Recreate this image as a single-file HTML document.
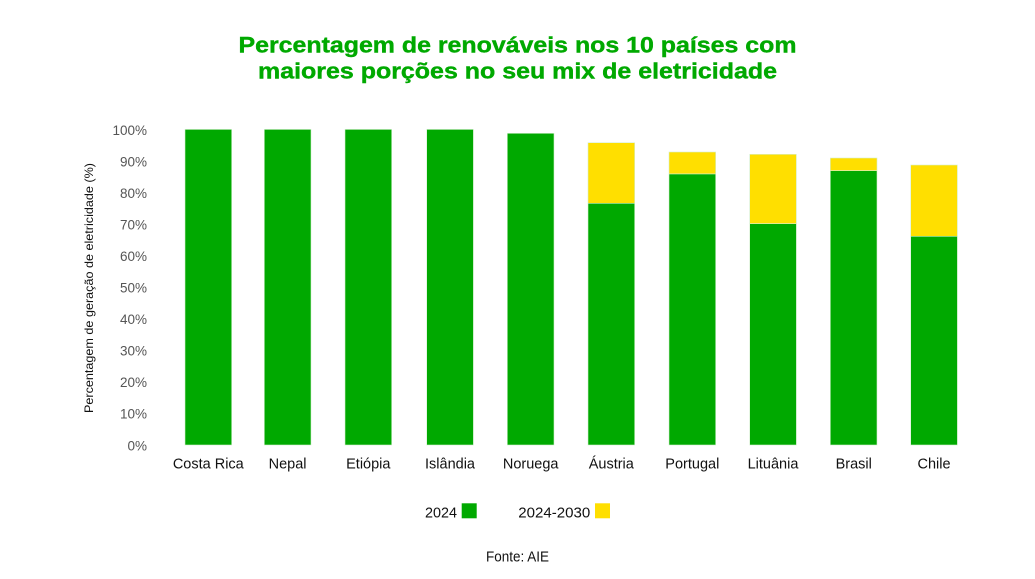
<!DOCTYPE html>
<html><head><meta charset="utf-8"><style>
html,body{margin:0;padding:0;background:#fff;}
svg{display:block;}
text{font-family:"Liberation Sans",sans-serif;}
</style></head><body>
<svg width="1035" height="579" viewBox="0 0 1035 579" xmlns="http://www.w3.org/2000/svg">
<rect width="1035" height="579" fill="#fff"/>
<!-- title -->
<text x="517.5" y="52.5" text-anchor="middle" font-size="22" font-weight="bold" fill="#00A900" stroke="#00A900" stroke-width="0.4" textLength="558" lengthAdjust="spacingAndGlyphs">Percentagem de renováveis nos 10 países com</text>
<text x="517.5" y="78.5" text-anchor="middle" font-size="22" font-weight="bold" fill="#00A900" stroke="#00A900" stroke-width="0.4" textLength="519" lengthAdjust="spacingAndGlyphs">maiores porções no seu mix de eletricidade</text>
<!-- y ticks -->
<g font-size="13.5" fill="#555" text-anchor="end">
<text x="147" y="134.8">100%</text>
<text x="147" y="166.3">90%</text>
<text x="147" y="197.8">80%</text>
<text x="147" y="229.3">70%</text>
<text x="147" y="260.8">60%</text>
<text x="147" y="292.3">50%</text>
<text x="147" y="323.8">40%</text>
<text x="147" y="355.3">30%</text>
<text x="147" y="386.8">20%</text>
<text x="147" y="418.3">10%</text>
<text x="147" y="450.3">0%</text>
</g>
<text transform="translate(93,288) rotate(-90)" text-anchor="middle" font-size="12" fill="#111" textLength="250" lengthAdjust="spacingAndGlyphs">Percentagem de geração de eletricidade (%)</text>
<!-- bars -->
<g stroke="#d6f0d0" stroke-width="0.6">
<rect x="185" y="129.4" width="46.7" height="315.6" fill="#00A900"/>
<rect x="264.3" y="129.4" width="46.7" height="315.6" fill="#00A900"/>
<rect x="345" y="129.4" width="46.7" height="315.6" fill="#00A900"/>
<rect x="426.7" y="129.4" width="46.7" height="315.6" fill="#00A900"/>
<rect x="507.3" y="133.3" width="46.7" height="311.7" fill="#00A900"/>
<rect x="588" y="142.7" width="46.7" height="60.6" fill="#FFDF00"/>
<rect x="588" y="203.3" width="46.7" height="241.7" fill="#00A900"/>
<rect x="669" y="152" width="46.7" height="22" fill="#FFDF00"/>
<rect x="669" y="174" width="46.7" height="271" fill="#00A900"/>
<rect x="749.7" y="154.3" width="46.7" height="69.4" fill="#FFDF00"/>
<rect x="749.7" y="223.7" width="46.7" height="221.3" fill="#00A900"/>
<rect x="830.3" y="158" width="46.7" height="12.7" fill="#FFDF00"/>
<rect x="830.3" y="170.7" width="46.7" height="274.3" fill="#00A900"/>
<rect x="910.7" y="165" width="46.7" height="71.3" fill="#FFDF00"/>
<rect x="910.7" y="236.3" width="46.7" height="208.7" fill="#00A900"/>
</g>
<!-- x labels -->
<g font-size="14.5" fill="#111" text-anchor="middle">
<text x="208.3" y="468.5">Costa Rica</text>
<text x="287.6" y="468.5">Nepal</text>
<text x="368.3" y="468.5">Etiópia</text>
<text x="450" y="468.5">Islândia</text>
<text x="530.7" y="468.5">Noruega</text>
<text x="611.3" y="468.5">Áustria</text>
<text x="692.3" y="468.5">Portugal</text>
<text x="773" y="468.5">Lituânia</text>
<text x="853.7" y="468.5">Brasil</text>
<text x="934" y="468.5">Chile</text>
</g>
<!-- legend -->
<g font-size="14.5" fill="#111">
<text x="425" y="517.3" textLength="32" lengthAdjust="spacingAndGlyphs">2024</text>
<rect x="461.7" y="503.3" width="15" height="15" fill="#00A900"/>
<text x="518.3" y="517.3" textLength="72" lengthAdjust="spacingAndGlyphs">2024-2030</text>
<rect x="595" y="503.3" width="15" height="15" fill="#FFDF00"/>
<text x="486" y="561.7" textLength="63" lengthAdjust="spacingAndGlyphs">Fonte: AIE</text>
</g>
</svg>
</body></html>
